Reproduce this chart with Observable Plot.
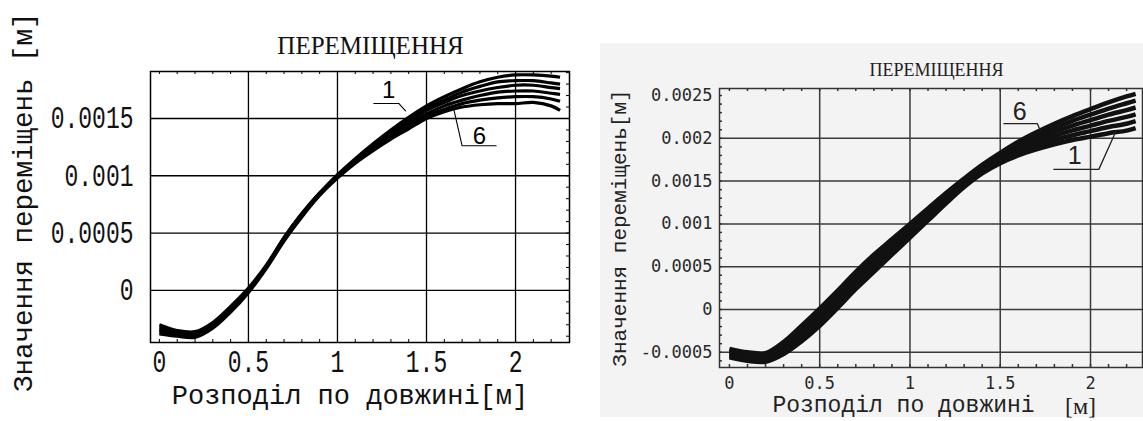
<!DOCTYPE html>
<html><head><meta charset="utf-8">
<script src="https://cdn.jsdelivr.net/npm/d3@7"></script>
<script src="https://cdn.jsdelivr.net/npm/@observablehq/plot@0.6"></script>
<style>
body{margin:0;background:#fff;}
#wrap{position:relative;width:1143px;height:421px;overflow:hidden;background:#fff;}
#left{position:absolute;left:0;top:0;}
#rbg{position:absolute;left:600px;top:43px;width:543px;height:374px;background:#f3f3f3;}
#right{position:absolute;left:590px;top:0;}
svg{display:block}
</style></head><body>
<div id="wrap"><div id="left"></div><div id="rbg"></div><div id="right"></div></div>
<script>
// ---------- shared x positions (m) ----------
const xs = [0,0.1,0.2,0.3,0.4,0.5,0.6,0.7,0.8,0.9,1.0,1.1,1.2,1.3,1.4,1.5,1.6,1.7,1.8,1.9,2.0,2.1,2.2,2.25];

// ---------- left chart series (6 curves) ----------
const L1 = [-0.00030,-0.00035,-0.00036,-0.00028,-0.00014,0.00002,0.00022,0.00046,0.00067,0.00085,0.00101,0.00115,0.00128,0.00140,0.00151,0.00161,0.00169,0.00176,0.00182,0.00186,0.00188,0.00188,0.00187,0.00186];
const L2 = [-0.00032,-0.00036,-0.00037,-0.00029,-0.00015,0.00001,0.00021,0.00046,0.00067,0.00085,0.00100,0.00114,0.00127,0.00139,0.00149,0.00159,0.00166,0.00173,0.00178,0.00182,0.00183,0.00183,0.00181,0.00180];
const L3 = [-0.00034,-0.00037,-0.00038,-0.00030,-0.00016,0.00000,0.00021,0.00045,0.00066,0.00084,0.00100,0.00114,0.00126,0.00137,0.00147,0.00157,0.00164,0.00170,0.00174,0.00177,0.00179,0.00179,0.00177,0.00176];
const L4 = [-0.00035,-0.00038,-0.00039,-0.00031,-0.00017,-0.00001,0.00020,0.00044,0.00066,0.00084,0.00099,0.00113,0.00125,0.00136,0.00145,0.00154,0.00161,0.00166,0.00170,0.00173,0.00174,0.00174,0.00172,0.00171];
const L5 = [-0.00037,-0.00039,-0.00040,-0.00032,-0.00018,-0.00001,0.00020,0.00044,0.00065,0.00083,0.00099,0.00112,0.00124,0.00134,0.00143,0.00152,0.00158,0.00163,0.00166,0.00168,0.00169,0.00169,0.00167,0.00165];
const L6 = [-0.00038,-0.00040,-0.00041,-0.00033,-0.00019,-0.00002,0.00019,0.00043,0.00064,0.00083,0.00098,0.00111,0.00122,0.00132,0.00141,0.00150,0.00156,0.00160,0.00162,0.00163,0.00163,0.00164,0.00161,0.00157];

// ---------- right chart series (6 curves) ----------
const R1 = [-0.00056,-0.00060,-0.00061,-0.00052,-0.00037,-0.00019,0.00002,0.00024,0.00044,0.00064,0.00084,0.00104,0.00124,0.00143,0.00159,0.00171,0.00180,0.00187,0.00193,0.00198,0.00202,0.00206,0.00209,0.00212];
const R2 = [-0.00054,-0.00058,-0.00059,-0.000492,-0.000334,-0.00015,0.00006,0.00028,0.00048,0.000676,0.000872,0.001068,0.001264,0.00145,0.00161,0.001734,0.001832,0.00191,0.001978,0.002036,0.002084,0.002132,0.00217,0.0022];
const R3 = [-0.00052,-0.00056,-0.00057,-0.000464,-0.000298,-0.00011,0.0001,0.00032,0.00052,0.000712,0.000904,0.001096,0.001288,0.00147,0.00163,0.001758,0.001864,0.00195,0.002026,0.002092,0.002148,0.002204,0.00225,0.00228];
const R4 = [-0.0005,-0.00054,-0.00055,-0.000436,-0.000262,-0.00007,0.00014,0.00036,0.00056,0.000748,0.000936,0.001124,0.001312,0.00149,0.00165,0.001782,0.001896,0.00199,0.002074,0.002148,0.002212,0.002276,0.00233,0.00236];
const R5 = [-0.00048,-0.00052,-0.00053,-0.000408,-0.000226,-0.00003,0.00018,0.0004,0.0006,0.000784,0.000968,0.001152,0.001336,0.00151,0.00167,0.001806,0.001928,0.00203,0.002122,0.002204,0.002276,0.002348,0.00241,0.00244];
const R6 = [-0.00046,-0.0005,-0.00051,-0.00038,-0.00019,0.00001,0.00022,0.00044,0.00064,0.00082,0.001,0.00118,0.00136,0.00153,0.00169,0.00183,0.00196,0.00207,0.00217,0.00226,0.00234,0.00242,0.00249,0.00252];

// ---------- texts ----------
const titleL = "ПЕРЕМІЩЕННЯ";
const xLabelL = "Розподіл по довжині[м]";
const yLabelL = "Значення переміщень [м]";
const titleR = "ПЕРЕМІЩЕННЯ";
const xLabelR = "Розподіл по довжині";
const unitR = "[м]";
const yLabelR = "Значення переміщень[м]";

// ---------- ticks ----------
const xTicks = [0, 0.5, 1, 1.5, 2];
const xTickLabels = ["0", "0.5", "1", "1.5", "2"];
const xGrid = [0.5, 1, 1.5, 2];
const yTicksL = [0, 0.0005, 0.001, 0.0015];
const yTickLabelsL = ["0", "0.0005", "0.001", "0.0015"];
const yTicksR = [-0.0005, 0, 0.0005, 0.001, 0.0015, 0.002, 0.0025];
const yTickLabelsR = ["-0.0005", "0", "0.0005", "0.001", "0.0015", "0.002", "0.0025"];
const yGridR = [-0.0005, 0, 0.0005, 0.001, 0.0015, 0.002];
const minorX = [0,0.1,0.2,0.3,0.4,0.5,0.6,0.7,0.8,0.9,1.0,1.1,1.2,1.3,1.4,1.5,1.6,1.7,1.8,1.9,2.0,2.1,2.2];
const minorYL = [-0.0004,-0.0003,-0.0002,-0.0001,0,0.0001,0.0002,0.0003,0.0004,0.0005,0.0006,0.0007,0.0008,0.0009,0.001,0.0011,0.0012,0.0013,0.0014,0.0015,0.0016,0.0017,0.0018,0.0019];
const minorYR = [-0.0006,-0.0005,-0.0004,-0.0003,-0.0002,-0.0001,0,0.0001,0.0002,0.0003,0.0004,0.0005,0.0006,0.0007,0.0008,0.0009,0.001,0.0011,0.0012,0.0013,0.0014,0.0015,0.0016,0.0017,0.0018,0.0019,0.002,0.0021,0.0022,0.0023,0.0024,0.0025];

// ---------- curve labels (data space) ----------
const labelsL = [{t: "1", x: 1.287, y: 0.001742}, {t: "6", x: 1.797, y: 0.001346}];
const leadersL = [
  {id: "1", x: 1.204, y: 0.001631}, {id: "1", x: 1.344, y: 0.001631}, {id: "1", x: 1.382, y: 0.001567},
  {id: "6", x: 1.891, y: 0.001262}, {id: "6", x: 1.700, y: 0.001262}, {id: "6", x: 1.653, y: 0.001582}
];
const labelsR = [{t: "6", x: 1.608, y: 0.002308}, {t: "1", x: 1.912, y: 0.001792}];
const leadersR = [
  {id: "6", x: 1.52, y: 0.002172}, {id: "6", x: 1.705, y: 0.002172}, {id: "6", x: 1.723, y: 0.002086},
  {id: "1", x: 1.797, y: 0.001637}, {id: "1", x: 2.046, y: 0.001637}, {id: "1", x: 2.139, y: 0.002074}
];

function longData(series) {
  const out = [];
  series.forEach((ys, k) => ys.forEach((y, i) => out.push({x: xs[i], y, s: k + 1})));
  return out;
}
const dataL = longData([L1, L2, L3, L4, L5, L6]);
const dataR = longData([R1, R2, R3, R4, R5, R6]);

function stretch(svg, label, sy) {
  svg.querySelectorAll(`g[aria-label="${label}"] text`).forEach(t => {
    const tr = t.getAttribute("transform") || "";
    t.setAttribute("transform", tr + ` scale(1,${sy})`);
  });
}

// ---------- LEFT ----------
{
  const W = 590, H = 421, mL = 150, mR = 21, mT = 71, mB = 79;
  const iW = W - mL - mR, iH = H - mT - mB;
  const svg = Plot.plot({
    width: W, height: H, marginLeft: mL, marginRight: mR, marginTop: mT, marginBottom: mB,
    style: {background: "transparent", fontFamily: "Liberation Mono", fontSize: "23px", color: "#111"},
    x: {domain: [-0.05, 2.303], label: null},
    y: {domain: [-0.000455, 0.00191], label: null},
    marks: [
      Plot.gridX(xGrid, {stroke: "#000", strokeOpacity: 1, strokeWidth: 1.3}),
      Plot.gridY(yTicksL, {stroke: "#000", strokeOpacity: 1, strokeWidth: 1.3}),
      Plot.tickX(minorX, {x: d => d, stroke: "#000", insetTop: iH - 3}),
      Plot.tickX(minorX, {x: d => d, stroke: "#000", insetBottom: iH - 3}),
      Plot.tickY(minorYL, {y: d => d, stroke: "#000", insetLeft: iW - 3}),
      Plot.frame({stroke: "#000", strokeWidth: 1.5}),
      Plot.axisX({ticks: xTicks, tickFormat: d => xTickLabels[xTicks.indexOf(d)], tickSize: 0, tickPadding: 7, label: null}),
      Plot.axisY({ticks: yTicksL, tickFormat: d => yTickLabelsL[yTicksL.indexOf(d)], tickSize: 0, tickPadding: 17, label: null}),
      Plot.line(dataL, {x: "x", y: "y", z: "s", stroke: "#000", strokeWidth: 3.2, curve: "catmull-rom", strokeLinecap: "butt"}),
      Plot.line(leadersL, {x: "x", y: "y", z: "id", stroke: "#000", strokeWidth: 1.1}),
      Plot.text(labelsL, {x: "x", y: "y", text: "t", fontFamily: "Liberation Sans", fontSize: 24, fill: "#000"}),
      Plot.text([titleL], {text: d => d, frameAnchor: "top", textAnchor: "middle", lineAnchor: "middle", dx: 10.5, dy: -25.7, fontSize: 25, fontFamily: "Liberation Serif", fill: "#111"}),
      Plot.text([xLabelL], {text: d => d, frameAnchor: "bottom", textAnchor: "middle", lineAnchor: "middle", dx: -10, dy: 53, fontSize: 27, fontFamily: "Liberation Mono", fill: "#111", ariaLabel: "xlabel"}),
      Plot.text([yLabelL], {text: d => d, frameAnchor: "left", textAnchor: "middle", lineAnchor: "middle", rotate: -90, dx: -127, dy: -4.7, fontSize: 27.5, fontFamily: "Liberation Mono", fill: "#111", ariaLabel: "ylabel"})
    ]
  });
  stretch(svg, "x-axis tick label", 1.35);
  stretch(svg, "y-axis tick label", 1.35);
  stretch(svg, "xlabel", 1.35);
  stretch(svg, "ylabel", 1.3);
  document.getElementById("left").appendChild(svg);
}

// ---------- RIGHT ----------
{
  const W = 553, H = 421, mL = 129, mR = 1, mT = 88, mB = 54;
  const iW = W - mL - mR, iH = H - mT - mB;
  const svg = Plot.plot({
    width: W, height: H, marginLeft: mL, marginRight: mR, marginTop: mT, marginBottom: mB,
    style: {background: "transparent", fontFamily: "DejaVu Sans Mono", fontSize: "17px", color: "#2a2a2a"},
    x: {domain: [-0.055, 2.288], label: null},
    y: {domain: [-0.000678, 0.002582], label: null},
    marks: [
      Plot.gridX(xGrid, {stroke: "#3a3a3a", strokeOpacity: 1, strokeWidth: 1.5}),
      Plot.gridY(yGridR, {stroke: "#3a3a3a", strokeOpacity: 1, strokeWidth: 1.5}),
      Plot.tickX(minorX, {x: d => d, stroke: "#333", strokeWidth: 1.5, insetTop: iH - 3}),
      Plot.tickX(minorX, {x: d => d, stroke: "#333", strokeWidth: 1.5, insetBottom: iH - 3}),
      Plot.tickY(minorYR, {y: d => d, stroke: "#333", strokeWidth: 1.5, insetRight: iW - 3}),
      Plot.frame({stroke: "#333", strokeWidth: 1.5}),
      Plot.axisX({ticks: xTicks, tickFormat: d => xTickLabels[xTicks.indexOf(d)], tickSize: 0, tickPadding: 9, label: null}),
      Plot.axisY({ticks: yTicksR, tickFormat: d => yTickLabelsR[yTicksR.indexOf(d)], tickSize: 0, tickPadding: 7, label: null}),
      Plot.line(dataR, {x: "x", y: "y", z: "s", stroke: "#111", strokeWidth: 4.5, curve: "catmull-rom", strokeLinecap: "butt"}),
      Plot.line(leadersR, {x: "x", y: "y", z: "id", stroke: "#222", strokeWidth: 1.3}),
      Plot.text(labelsR, {x: "x", y: "y", text: "t", fontFamily: "Liberation Sans", fontSize: 25, fill: "#222"}),
      Plot.text([titleR], {text: d => d, frameAnchor: "top", textAnchor: "middle", lineAnchor: "middle", dx: 5.5, dy: -18, fontSize: 18, fontFamily: "Liberation Serif", fill: "#222"}),
      Plot.text([xLabelR], {text: d => d, frameAnchor: "bottom", textAnchor: "middle", lineAnchor: "middle", dx: -27.5, dy: 37, fontSize: 23, fontFamily: "Liberation Mono", fill: "#222", ariaLabel: "xlabel"}),
      Plot.text([unitR], {text: d => d, frameAnchor: "bottom", textAnchor: "middle", lineAnchor: "middle", dx: 149.5, dy: 39, fontSize: 24, fontFamily: "Liberation Serif", fill: "#222"}),
      Plot.text([yLabelR], {text: d => d, frameAnchor: "left", textAnchor: "middle", lineAnchor: "middle", rotate: -90, dx: -100, dy: 0, fontSize: 21, fontFamily: "Liberation Mono", fill: "#222", ariaLabel: "ylabel"})
    ]
  });
  stretch(svg, "xlabel", 1.2);
  stretch(svg, "ylabel", 1.3);
  document.getElementById("right").appendChild(svg);
}
</script>
</body></html>
